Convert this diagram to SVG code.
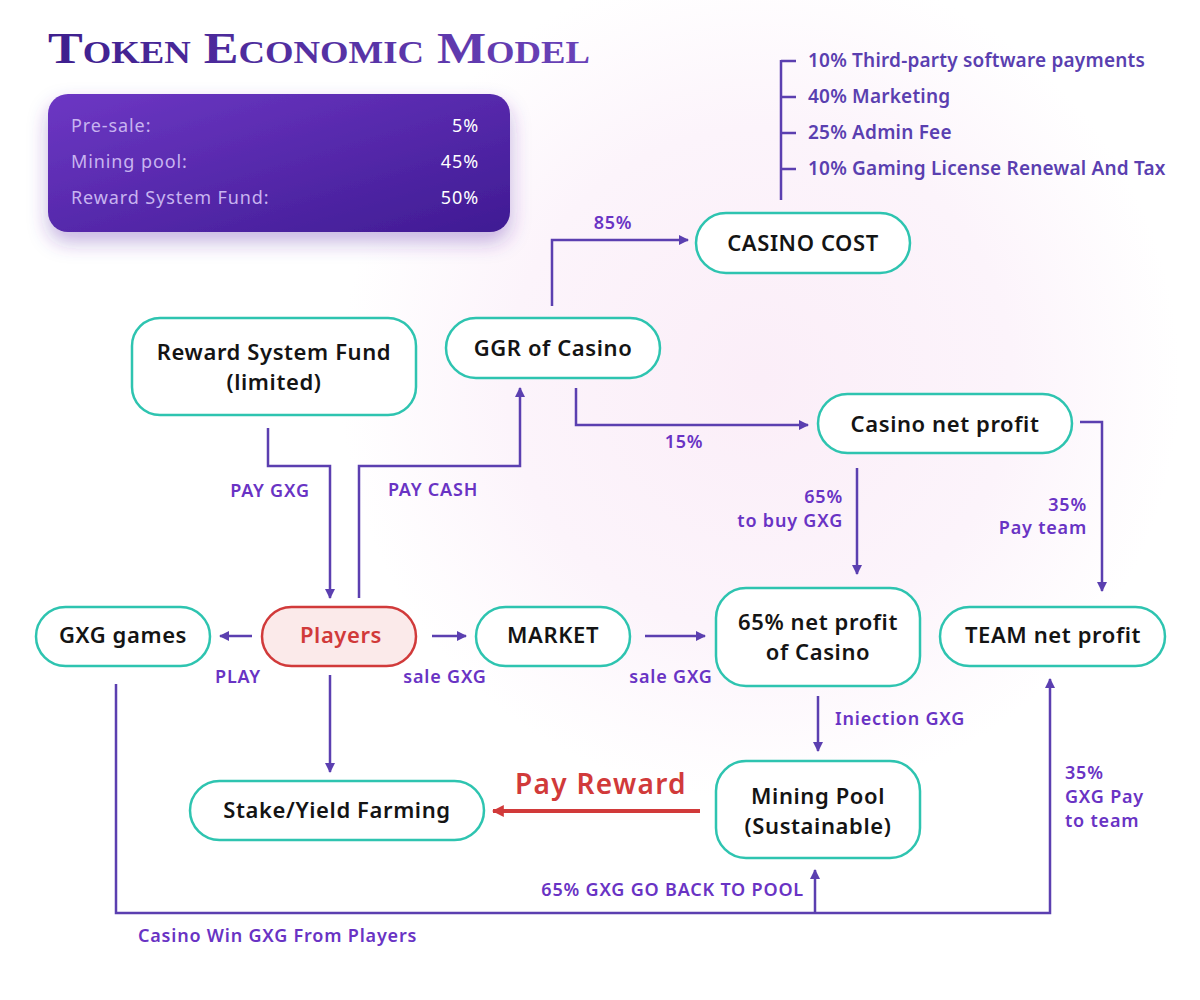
<svg xmlns="http://www.w3.org/2000/svg" width="1200" height="1000" viewBox="0 0 1200 1000">
<defs>
  <radialGradient id="bg" cx="760" cy="380" r="420" gradientUnits="userSpaceOnUse">
    <stop offset="0" stop-color="#fbeef8"/>
    <stop offset="0.6" stop-color="#fcf4fb"/>
    <stop offset="1" stop-color="#ffffff"/>
  </radialGradient>
  <linearGradient id="box" x1="0" y1="0" x2="1" y2="1">
    <stop offset="0" stop-color="#6d37c4"/>
    <stop offset="1" stop-color="#3f1b93"/>
  </linearGradient>
  <linearGradient id="title" x1="0" y1="0" x2="1" y2="0">
    <stop offset="0" stop-color="#3e1f8e"/>
    <stop offset="1" stop-color="#6a42b8"/>
  </linearGradient>
  <filter id="shadow" x="-20%" y="-20%" width="140%" height="160%">
    <feDropShadow dx="0" dy="10" stdDeviation="10" flood-color="#5a2fa8" flood-opacity="0.35"/>
  </filter>
  <marker id="arr" viewBox="0 0 10 10" refX="9" refY="5" markerWidth="10" markerHeight="10" markerUnits="userSpaceOnUse" orient="auto">
    <path d="M0,0 L10,5 L0,10 z" fill="#5b3fb0"/>
  </marker>
  <marker id="arrR" viewBox="0 0 10 10" refX="9" refY="5" markerWidth="12" markerHeight="12" markerUnits="userSpaceOnUse" orient="auto">
    <path d="M0,0 L10,5 L0,10 z" fill="#d13a3a"/>
  </marker>
  <style>
    .node rect { fill:#ffffff; stroke:#2ec4b0; stroke-width:2.5; }
    .node text { font-family:"Noto Sans","DejaVu Sans",sans-serif; font-size:22px; font-weight:600; fill:#141414; text-anchor:middle; letter-spacing:0.6px; }
    .conn path { fill:none; stroke:#5b3fb0; stroke-width:2.5; marker-end:url(#arr); }
    .lbl { font-family:"Noto Sans","DejaVu Sans",sans-serif; font-size:18px; font-weight:600; fill:#6933c4; letter-spacing:0.8px; }
    .list { font-family:"Noto Sans","DejaVu Sans",sans-serif; font-size:19px; font-weight:600; fill:#5a3fb0; letter-spacing:0.2px; }
    .dist { font-family:"Noto Sans","DejaVu Sans",sans-serif; font-size:18px; letter-spacing:0.9px; }
  </style>
</defs>
<rect width="1200" height="1000" fill="url(#bg)"/>

<text x="48" y="63" font-family="Liberation Serif, serif" font-size="44" font-weight="bold" font-variant="small-caps" fill="url(#title)" textLength="542" lengthAdjust="spacingAndGlyphs">Token Economic Model</text>

<g id="distribution">
  <rect x="48" y="94" width="462" height="138" rx="20" fill="url(#box)" filter="url(#shadow)"/>
  <text class="dist" x="71" y="132" fill="#c8b4f0">Pre-sale:</text>
  <text class="dist" x="71" y="168" fill="#c8b4f0">Mining pool:</text>
  <text class="dist" x="71" y="204" fill="#c8b4f0">Reward System Fund:</text>
  <text class="dist" x="479" y="132" fill="#ffffff" text-anchor="end">5%</text>
  <text class="dist" x="479" y="168" fill="#ffffff" text-anchor="end">45%</text>
  <text class="dist" x="479" y="204" fill="#ffffff" text-anchor="end">50%</text>
</g>

<g id="cost-breakdown">
  <path d="M781,200 V60 M781,61 H796 M781,97 H796 M781,133 H796 M781,169 H796" fill="none" stroke="#5b3fb0" stroke-width="2.5"/>
  <text class="list" x="808" y="67">10% Third-party software payments</text>
  <text class="list" x="808" y="103">40% Marketing</text>
  <text class="list" x="808" y="139">25% Admin Fee</text>
  <text class="list" x="808" y="175">10% Gaming License Renewal And Tax</text>
</g>

<g id="connectors" class="conn">
  <path d="M552,306 V240 H688"/>
  <path d="M576,388 V425 H808"/>
  <path d="M268,428 V466 H330 V598"/>
  <path d="M359,598 V466 H520 V388"/>
  <path d="M857,468 V574"/>
  <path d="M1080,422 H1102 V591"/>
  <path d="M252,636 H220"/>
  <path d="M432,636 H466"/>
  <path d="M645,636 H705"/>
  <path d="M818,696 V751"/>
  <path d="M330,675 V772"/>
  <path d="M116,684 V913 H1050 V679"/>
  <path d="M815,913 V870"/>
  <path d="M700,811 H493" style="stroke:#d13a3a;stroke-width:4;marker-end:url(#arrR)"/>
</g>

<g id="labels">
  <text class="lbl" x="613" y="229" text-anchor="middle">85%</text>
  <text class="lbl" x="684" y="448" text-anchor="middle">15%</text>
  <text class="lbl" x="270" y="497" text-anchor="middle">PAY GXG</text>
  <text class="lbl" x="433" y="496" text-anchor="middle">PAY CASH</text>
  <text class="lbl" x="843" y="503" text-anchor="end">65%</text>
  <text class="lbl" x="843" y="527" text-anchor="end">to buy GXG</text>
  <text class="lbl" x="1087" y="511" text-anchor="end">35%</text>
  <text class="lbl" x="1087" y="534" text-anchor="end">Pay team</text>
  <text class="lbl" x="238" y="683" text-anchor="middle">PLAY</text>
  <text class="lbl" x="445" y="683" text-anchor="middle">sale GXG</text>
  <text class="lbl" x="671" y="683" text-anchor="middle">sale GXG</text>
  <text class="lbl" x="835" y="725">Iniection GXG</text>
  <text class="lbl" x="1065" y="779">35%</text>
  <text class="lbl" x="1065" y="803">GXG Pay</text>
  <text class="lbl" x="1065" y="827">to team</text>
  <text class="lbl" x="804" y="896" text-anchor="end">65% GXG GO BACK TO POOL</text>
  <text class="lbl" x="138" y="942">Casino Win GXG From Players</text>
  <text x="601" y="794" text-anchor="middle" font-family="Noto Sans, DejaVu Sans, sans-serif" font-size="28" font-weight="600" fill="#d13a3a" letter-spacing="1.3">Pay Reward</text>
</g>

<g id="casino-cost" class="node"><rect x="696" y="213" width="214" height="60" rx="30"/><text x="803" y="251">CASINO COST</text></g>
<g id="ggr" class="node"><rect x="446" y="318" width="214" height="60" rx="30"/><text x="553" y="356">GGR of Casino</text></g>
<g id="reward-fund" class="node"><rect x="132" y="318" width="284" height="97" rx="28"/><text x="274" y="360">Reward System Fund</text><text x="274" y="390">(limited)</text></g>
<g id="casino-net-profit" class="node"><rect x="818" y="394" width="254" height="59" rx="29.5"/><text x="945" y="432">Casino net profit</text></g>
<g id="gxg-games" class="node"><rect x="36" y="607" width="174" height="59" rx="29.5"/><text x="123" y="643">GXG games</text></g>
<g id="players" class="node"><rect x="262" y="607" width="154" height="59" rx="29.5" style="fill:#fbeaea;stroke:#d13a3a"/><text x="341" y="643" style="fill:#d13a3a">Players</text></g>
<g id="market" class="node"><rect x="476" y="607" width="154" height="59" rx="29.5"/><text x="553" y="643">MARKET</text></g>
<g id="net-profit-65" class="node"><rect x="716" y="588" width="204" height="98" rx="30"/><text x="818" y="630">65% net profit</text><text x="818" y="660">of Casino</text></g>
<g id="team-net-profit" class="node"><rect x="940" y="607" width="225" height="59" rx="29.5"/><text x="1053" y="643">TEAM net profit</text></g>
<g id="stake" class="node"><rect x="190" y="781" width="294" height="59" rx="29.5"/><text x="337" y="818">Stake/Yield Farming</text></g>
<g id="mining-pool" class="node"><rect x="716" y="761" width="204" height="97" rx="30"/><text x="818" y="804">Mining Pool</text><text x="818" y="834">(Sustainable)</text></g>
</svg>
